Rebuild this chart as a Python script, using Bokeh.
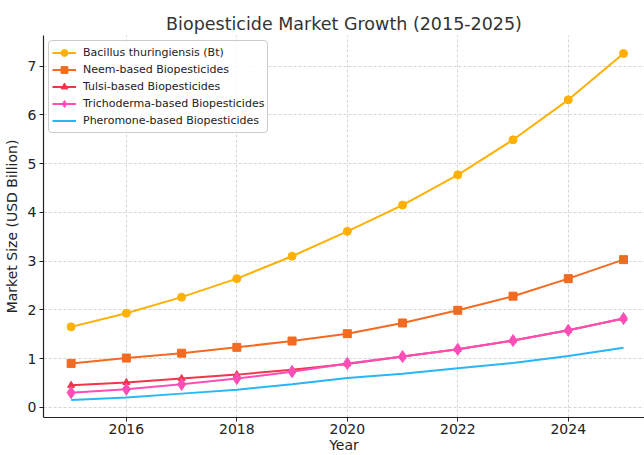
from bokeh.plotting import figure
from bokeh.models import Range1d, FixedTicker
from bokeh.embed import file_html
from bokeh.resources import INLINE

years = list(range(2015, 2026))
bt = [1.65, 1.93, 2.26, 2.64, 3.10, 3.61, 4.15, 4.77, 5.49, 6.31, 7.26]
neem = [0.90, 1.01, 1.11, 1.23, 1.36, 1.51, 1.73, 1.99, 2.28, 2.64, 3.03]
tulsi = [0.45, 0.51, 0.59, 0.67, 0.77, 0.89, 1.04, 1.19, 1.37, 1.58, 1.82]
tricho = [0.30, 0.37, 0.47, 0.59, 0.73, 0.90, 1.04, 1.19, 1.37, 1.58, 1.82]
phero = [0.15, 0.20, 0.28, 0.36, 0.47, 0.60, 0.69, 0.80, 0.91, 1.05, 1.22]

x_ticks = [2016, 2018, 2020, 2022, 2024]
y_ticks = [0, 1, 2, 3, 4, 5, 6, 7]

FONT = "DejaVu Sans"

p = figure(width=644, height=455, output_backend="svg", toolbar_location=None,
           x_range=Range1d(2014.5, 2025.38), y_range=Range1d(-0.21, 7.63),
           title="Biopesticide Market Growth (2015-2025)",
           min_border_left=0, min_border_right=0, min_border_top=35, min_border_bottom=0)

p.title.text_font = FONT
p.title.text_font_size = "17.5px"
p.title.text_font_style = "normal"
p.title.text_color = "#333333"
p.title.align = "center"
p.title.standoff = 4

p.outline_line_color = None

p.xaxis.ticker = FixedTicker(ticks=x_ticks)
p.yaxis.ticker = FixedTicker(ticks=y_ticks)
p.xaxis.axis_label = "Year"
p.yaxis.axis_label = "Market Size (USD Billion)"
for ax in (p.xaxis, p.yaxis):
    ax.axis_label_text_font = FONT
    ax.axis_label_text_font_size = "14px"
    ax.axis_label_text_font_style = "normal"
    ax.axis_label_text_color = "#222222"
    ax.major_label_text_font = FONT
    ax.major_label_text_font_size = "14px"
    ax.major_label_text_color = "#222222"
    ax.axis_line_color = "#222222"
    ax.axis_line_width = 1.2
    ax.major_tick_line_color = "#222222"
    ax.major_tick_out = 4
    ax.major_tick_in = 0
    ax.minor_tick_line_color = None
p.xaxis.axis_label_standoff = 0
p.xaxis.major_label_standoff = 2
p.yaxis.axis_label_standoff = 5
p.yaxis.major_label_standoff = 3

p.grid.grid_line_color = "#cccccc"
p.grid.grid_line_dash = "3 2"
p.grid.grid_line_width = 0.8

series = [
    ("Bacillus thuringiensis (Bt)", bt, "#FFB000", "circle", 8),
    ("Neem-based Biopesticides", neem, "#F26B21", "square", 8),
    ("Tulsi-based Biopesticides", tulsi, "#F0364A", "triangle", 7),
    ("Trichoderma-based Biopesticides", tricho, "#FF4DB8", "diamond", 12),
    ("Pheromone-based Biopesticides", phero, "#29B6F6", None, 0),
]

for name, vals, color, marker, size in series:
    p.line(years, vals, line_color=color, line_width=2, legend_label=name)
    if marker:
        p.scatter(years, vals, marker=marker, size=size, fill_color=color,
                  line_color=color, legend_label=name)

p.legend.location = "top_left"
p.legend.label_text_font = FONT
p.legend.label_text_font_size = "11px"
p.legend.label_text_color = "#222222"
p.legend.border_line_color = "#cccccc"
p.legend.border_line_alpha = 1
p.legend.border_radius = 4
p.legend.background_fill_alpha = 0.85
p.legend.margin = 5
p.legend.padding = 3
p.legend.spacing = 0
p.legend.glyph_width = 24
p.legend.glyph_height = 17
p.legend.label_height = 17
p.legend.label_standoff = 7

open("out.html", "w").write(file_html(p, INLINE))
